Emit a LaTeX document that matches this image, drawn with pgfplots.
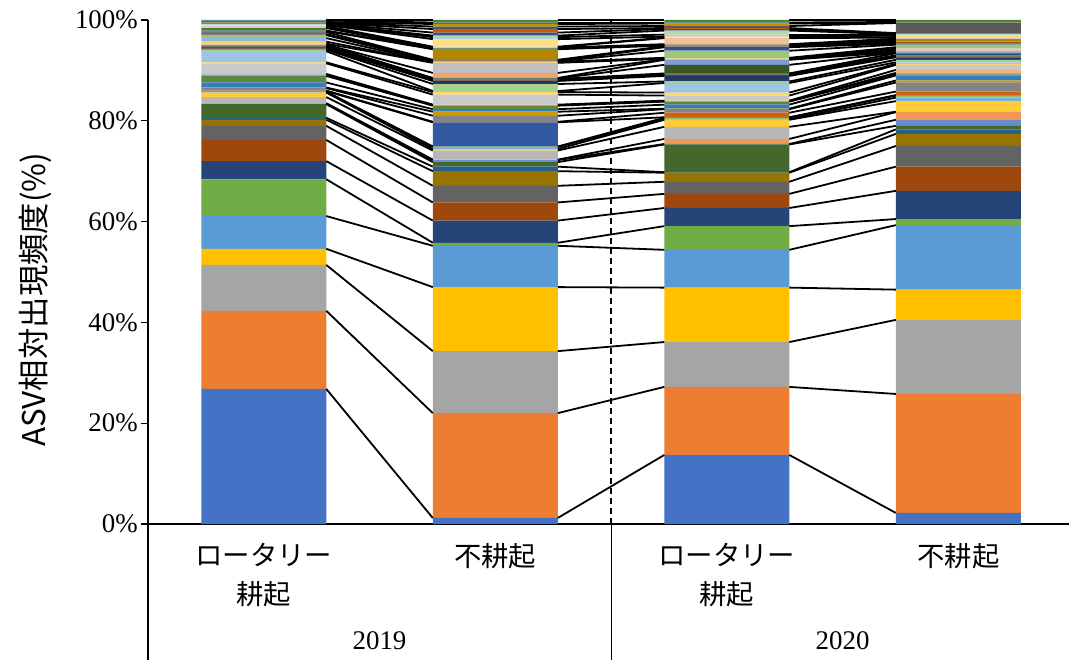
\documentclass[border=0pt]{standalone}
\usepackage{fontspec}
\setmainfont{Liberation Serif}
\newfontfamily\jp{Noto Sans CJK JP}
\usepackage{pgfplots}
\usepackage{pgfplotstable}
\pgfplotsset{compat=1.18}

% series colours (Office palette order)
\definecolor{c1}{HTML}{4472C4}\definecolor{c2}{HTML}{ED7D31}\definecolor{c3}{HTML}{A5A5A5}
\definecolor{c4}{HTML}{FFC000}\definecolor{c5}{HTML}{5B9BD5}\definecolor{c6}{HTML}{70AD47}
\definecolor{c7}{HTML}{264478}\definecolor{c8}{HTML}{9E480E}\definecolor{c9}{HTML}{636363}
\definecolor{c10}{HTML}{997300}\definecolor{c11}{HTML}{255E91}\definecolor{c12}{HTML}{43682B}
\definecolor{c13}{HTML}{698ED0}\definecolor{c14}{HTML}{F1975A}\definecolor{c15}{HTML}{B7B7B7}
\definecolor{c16}{HTML}{FFCD33}\definecolor{c17}{HTML}{7CAFDD}\definecolor{c18}{HTML}{8CC168}
\definecolor{c19}{HTML}{335AA1}\definecolor{c20}{HTML}{D26012}\definecolor{c21}{HTML}{848484}
\definecolor{c22}{HTML}{CC9A00}\definecolor{c23}{HTML}{327DC2}\definecolor{c24}{HTML}{5A8A39}
\definecolor{c25}{HTML}{8FAADC}\definecolor{c26}{HTML}{F4B183}\definecolor{c27}{HTML}{C9C9C9}
\definecolor{c28}{HTML}{FFD966}\definecolor{c29}{HTML}{9DC3E6}\definecolor{c30}{HTML}{A9D18E}
\definecolor{c31}{HTML}{203864}\definecolor{c32}{HTML}{843C0C}\definecolor{c33}{HTML}{525252}
\definecolor{c34}{HTML}{7F6000}\definecolor{c35}{HTML}{1F4E79}\definecolor{c36}{HTML}{385723}
\definecolor{c37}{HTML}{7C9CD6}\definecolor{c38}{HTML}{F2A46F}\definecolor{c39}{HTML}{C0C0C0}
\definecolor{c40}{HTML}{FFD24D}\definecolor{c41}{HTML}{8CBAE2}\definecolor{c42}{HTML}{9BC67E}
\definecolor{c43}{HTML}{30508A}\definecolor{c44}{HTML}{A6571F}\definecolor{c45}{HTML}{737373}
\definecolor{c46}{HTML}{B38600}\definecolor{c47}{HTML}{3F6D95}\definecolor{c48}{HTML}{4E7A32}
\definecolor{c49}{HTML}{A2B8E1}\definecolor{c50}{HTML}{F6BE98}\definecolor{c51}{HTML}{D2D2D2}
\definecolor{c52}{HTML}{FFDF80}\definecolor{c53}{HTML}{ADCDEA}\definecolor{c54}{HTML}{B7D8A3}
\definecolor{c55}{HTML}{2F5597}\definecolor{c56}{HTML}{C55A11}\definecolor{c57}{HTML}{595959}
\definecolor{c58}{HTML}{BF9000}\definecolor{c59}{HTML}{2E75B6}\definecolor{c60}{HTML}{548235}

% relative frequency (%) of each ASV: b1 = 2019 rotary, b2 = 2019 no-till,
% b3 = 2020 rotary, b4 = 2020 no-till
\pgfplotstableread{
seg b1 b2 b3 b4
s1 26.8 1.2 13.7 2.2
s2 15.5 20.8 13.5 23.6
s3 9.1 12.3 8.9 14.7
s4 3.2 12.7 10.8 6.0
s5 6.5 8.2 7.5 12.8
s6 7.3 0.6 4.7 1.2
s7 3.6 4.4 3.6 5.6
s8 4.2 3.6 2.8 4.8
s9 2.8 3.3 2.4 4.1
s10 1.2 2.9 1.8 2.4
s11 0.4 0.9 0.1 0.9
s12 2.7 0.9 5.5 0.7
s13 0.1 0.4 0.1 1.2
s14 0.1 0.1 1.0 1.5
s15 1.2 1.8 2.4 0.1
s16 0.9 0.3 1.4 2.1
s17 0.1 0.4 0.1 0.7
s18 0.1 0.1 0.3 0.4
s19 0.1 4.8 0.1 0.1
s20 0.1 0.1 0.9 0.7
s21 0.5 1.2 0.7 1.8
s22 0.1 0.8 0.1 0.4
s23 1.0 0.5 0.8 1.0
s24 1.3 0.7 0.6 0.2
s25 0.3 0.1 0.1 0.3
s26 0.1 0.1 0.1 0.6
s27 2.1 2.0 1.0 1.0
s28 0.2 0.5 0.6 0.2
s29 2.2 0.2 1.9 0.3
s30 0.3 1.4 0.3 0.5
s31 0.2 0.6 1.1 0.5
s32 0.1 0.1 0.2 0.1
s33 0.2 0.1 0.1 0.1
s34 0.1 0.1 0.1 0.2
s35 0.1 0.1 0.1 0.4
s36 0.1 0.1 1.7 0.1
s37 0.1 0.1 1.0 0.1
s38 0.1 1.0 0.1 0.3
s39 0.2 2.0 0.1 0.1
s40 0.4 0.1 0.1 0.3
s41 0.7 0.1 0.1 0.3
s42 0.6 0.1 1.4 0.5
s43 0.1 0.1 0.7 0.2
s44 0.1 0.1 0.1 0.3
s45 0.4 0.1 0.1 0.1
s46 0.2 2.1 0.1 0.3
s47 0.1 0.1 0.1 0.1
s48 0.5 0.1 0.1 0.1
s49 0.1 0.1 0.1 0.1
s50 0.1 0.1 1.2 0.2
s51 0.2 0.1 0.1 0.1
s52 0.2 1.5 0.2 0.3
s53 0.1 0.4 0.4 0.2
s54 0.1 0.3 0.8 0.1
s55 0.1 0.6 0.3 0.1
s56 0.1 0.7 0.2 0.1
s57 0.1 0.5 0.4 2.0
s58 0.1 0.5 0.5 0.1
s59 0.3 0.3 0.2 0.1
s60 0.1 0.5 0.5 0.4
}\segs
% one row per bar for the stacked bars
\pgfplotstabletranspose[colnames from=seg, input colnames to=bar]\tsegs\segs
% cumulative tops of the segments, for the series lines
\pgfplotstablecreatecol[create col/expr accum={\pgfmathaccuma + \thisrow{b1}}{0}]{c1}\segs
\pgfplotstablecreatecol[create col/expr accum={\pgfmathaccuma + \thisrow{b2}}{0}]{c2}\segs
\pgfplotstablecreatecol[create col/expr accum={\pgfmathaccuma + \thisrow{b3}}{0}]{c3}\segs
\pgfplotstablecreatecol[create col/expr accum={\pgfmathaccuma + \thisrow{b4}}{0}]{c4}\segs

\pgfplotsset{
  frame/.style={
    width=921bp, height=504bp, scale only axis,
    xmin=-0.5, xmax=3.478, ymin=0, ymax=100,
  },
}

\begin{document}
\begin{tikzpicture}
\begin{axis}[
  frame,
  ybar stacked, bar width=0.54,
  axis lines=left,
  axis line style={-, line width=1.1bp, black},
  ytick={0,20,...,100},
  yticklabel={\pgfmathprintnumber{\tick}\%},
  /pgf/number format/assume math mode=true,
  tick align=outside,
  major tick length=7bp,
  ytick style={line width=1.1bp, black},
  yticklabel style={font=\fontsize{27}{30}\selectfont, inner sep=3bp},
  xtick={0,1,2,3},
  xticklabels={{ロータリー\\耕起},{不耕起},{ロータリー\\耕起},{不耕起}},
  xtick style={draw=none},
  xticklabel style={font=\jp\fontsize{27.5}{39}\selectfont, align=center, inner sep=0pt, yshift=-12bp},
  ylabel={ASV相対出現頻度(\%)},
  ylabel style={font=\jp\fontsize{31.5}{34}\selectfont, at={(axis description cs:0,0.445)}, anchor=center, yshift=113bp},
]
\pgfplotsinvokeforeach{1,...,60}{
  \addplot[fill=c#1, draw=none] table[x expr=\coordindex, y=s#1]{\tsegs};
}
\end{axis}

\begin{axis}[frame, hide axis, clip=false]
% series lines between neighbouring bars
\addplot[black, line width=1.8bp, quiver={u=0.46, v=\thisrow{c2}-\thisrow{c1}}] table[x expr=0.27, y=c1]{\segs};
\addplot[black, line width=1.8bp, quiver={u=0.46, v=\thisrow{c3}-\thisrow{c2}}] table[x expr=1.27, y=c2]{\segs};
\addplot[black, line width=1.8bp, quiver={u=0.46, v=\thisrow{c4}-\thisrow{c3}}] table[x expr=2.27, y=c3]{\segs};
% year divider
\addplot[black, line width=1.3bp, dash pattern=on 6bp off 4bp] coordinates {(1.5,0) (1.5,100)};
% group separators of the category axis
\addplot[black, line width=1.1bp] coordinates {(-0.5,0) (-0.5,-27)};
\addplot[black, line width=1.1bp] coordinates {(1.5,0) (1.5,-27)};
\node[font=\fontsize{27}{30}\selectfont] at (axis cs:0.5,-23.2) {2019};
\node[font=\fontsize{27}{30}\selectfont] at (axis cs:2.5,-23.2) {2020};
\end{axis}

\pgfresetboundingbox
\path (current axis.south west) ++(-148bp,-139bp) rectangle ++(1069bp,663bp);
\end{tikzpicture}
\end{document}
